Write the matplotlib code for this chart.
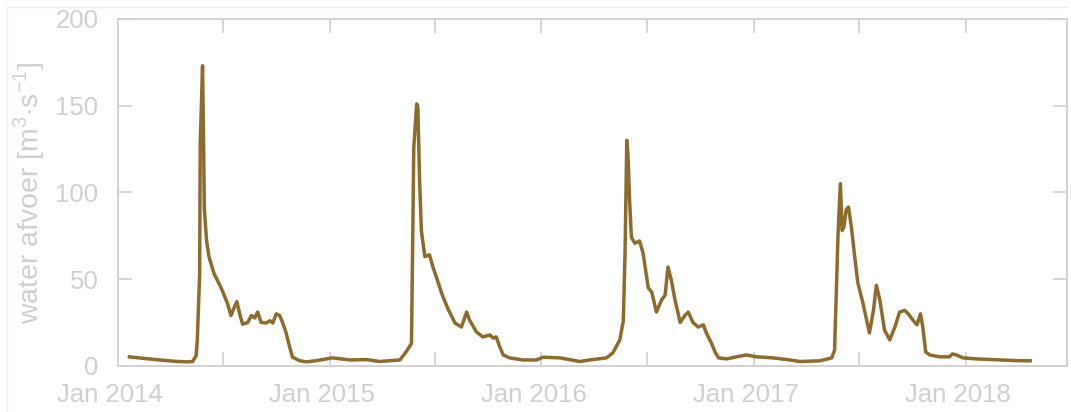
import pandas as pd
import matplotlib.pyplot as plt
import matplotlib.dates as mdates
from matplotlib.lines import Line2D
from matplotlib.transforms import ScaledTranslation

# Daily river discharge, sampled at the turning points of the hydrograph
dates = [
    "2014-01-21", "2014-02-15", "2014-03-14", "2014-04-10", "2014-04-30", "2014-05-10",
    "2014-05-16", "2014-05-18", "2014-05-22", "2014-05-23", "2014-05-27", "2014-05-29",
    "2014-05-30", "2014-06-03", "2014-06-07", "2014-06-16", "2014-06-28", "2014-07-09",
    "2014-07-15", "2014-07-21", "2014-07-25", "2014-07-30", "2014-08-04", "2014-08-13",
    "2014-08-19", "2014-08-25", "2014-08-30", "2014-09-05", "2014-09-14", "2014-09-20",
    "2014-09-25", "2014-10-01", "2014-10-07", "2014-10-12", "2014-10-18", "2014-10-24",
    "2014-10-29", "2014-11-10", "2014-11-22", "2014-12-09",
    "2015-01-06", "2015-02-05", "2015-03-07", "2015-03-28", "2015-05-02", "2015-05-13",
    "2015-05-22", "2015-05-24", "2015-05-26", "2015-05-31", "2015-06-02", "2015-06-05",
    "2015-06-08", "2015-06-14", "2015-06-22", "2015-06-28", "2015-07-07", "2015-07-15",
    "2015-07-24", "2015-08-05", "2015-08-16", "2015-08-25", "2015-08-30", "2015-09-11",
    "2015-09-22", "2015-10-04", "2015-10-10", "2015-10-15", "2015-10-21", "2015-10-27",
    "2015-11-07", "2015-11-30", "2015-12-23",
    "2016-01-04", "2016-02-02", "2016-03-07", "2016-03-24", "2016-04-22", "2016-05-03",
    "2016-05-15", "2016-05-21", "2016-05-24", "2016-05-27", "2016-05-29", "2016-06-01",
    "2016-06-04", "2016-06-10", "2016-06-18", "2016-06-24", "2016-07-03", "2016-07-09",
    "2016-07-17", "2016-07-26", "2016-08-01", "2016-08-06", "2016-08-12", "2016-08-18",
    "2016-08-27", "2016-09-04", "2016-09-10", "2016-09-18", "2016-09-27", "2016-10-06",
    "2016-10-11", "2016-10-20", "2016-10-26", "2016-11-01", "2016-11-15", "2016-12-02",
    "2016-12-19",
    "2017-01-06", "2017-02-03", "2017-03-04", "2017-03-21", "2017-04-25", "2017-05-15",
    "2017-05-20", "2017-05-23", "2017-05-26", "2017-05-30", "2017-06-02", "2017-06-05",
    "2017-06-09", "2017-06-13", "2017-06-18", "2017-06-23", "2017-06-29", "2017-07-08",
    "2017-07-19", "2017-07-26", "2017-07-31", "2017-08-06", "2017-08-14", "2017-08-23",
    "2017-09-01", "2017-09-09", "2017-09-18", "2017-09-24", "2017-10-02", "2017-10-09",
    "2017-10-15", "2017-10-19", "2017-10-24", "2017-10-31", "2017-11-17", "2017-12-04",
    "2017-12-09", "2017-12-16", "2017-12-27",
    "2018-01-20", "2018-03-01", "2018-03-30", "2018-04-22",
]
afvoer = [
    5.2, 4.3, 3.4, 2.6, 2.3, 2.5,
    6.0, 15.0, 53.0, 128.0, 173.0, 124.0,
    91.0, 72.0, 63.0, 53.0, 45.0, 36.0,
    29.0, 34.0, 37.0, 30.0, 24.0, 25.0,
    29.0, 27.6, 31.0, 25.0, 24.7, 26.0,
    24.7, 30.0, 29.0, 25.0, 19.0, 11.0,
    5.0, 3.0, 2.3, 3.0,
    4.6, 3.4, 3.6, 2.5, 3.4, 8.2,
    13.0, 68.0, 126.0, 151.0, 149.0, 107.0,
    78.0, 63.0, 64.0, 57.0, 48.0, 40.0,
    32.8, 24.7, 22.4, 31.0, 26.4, 19.5,
    16.7, 17.8, 16.0, 16.7, 11.0, 6.3,
    4.6, 3.4, 3.4,
    5.0, 4.6, 2.5, 3.4, 4.6, 7.5,
    15.0, 26.0, 65.0, 130.0, 122.0, 94.0,
    74.0, 70.7, 72.0, 65.0, 45.0, 42.5,
    31.0, 38.0, 40.8, 57.0, 49.0, 38.0,
    25.0, 29.0, 31.0, 25.0, 22.4, 23.6,
    19.0, 13.0, 8.0, 4.6, 4.0, 5.2,
    6.3,
    5.2, 4.6, 3.4, 2.5, 2.9, 4.6,
    9.0, 42.0, 76.0, 105.0, 78.0, 80.0,
    90.0, 91.5, 80.0, 65.0, 48.0, 36.0,
    19.0, 32.0, 46.5, 38.0, 20.7, 15.0,
    22.4, 31.0, 32.0, 30.0, 26.4, 23.6,
    30.0, 22.4, 8.0, 6.3, 5.2, 5.2,
    6.9, 6.3, 4.6,
    4.0, 3.4, 3.0, 2.9,
]
x_start, x_end = "2014-01-01", "2018-06-24"
y_ticks = [0, 50, 100, 150, 200]

grey = "#d2d2d2"
text_grey = "#cfcfcf"
line_colour = "#8d6b2c"

plt.rcParams["font.family"] = ["Liberation Sans", "DejaVu Sans"]
plt.rcParams["mathtext.fontset"] = "custom"
plt.rcParams["mathtext.rm"] = "Liberation Sans"

df = pd.DataFrame({"datum": pd.to_datetime(dates), "afvoer": afvoer})

fig = plt.figure(figsize=(10.71, 4.12), dpi=100)
ax = fig.add_axes([0.110, 0.112, 0.886, 0.842])

ax.plot(df["datum"], df["afvoer"], color=line_colour, lw=2.5, solid_joinstyle="round")

ax.set_xlim(pd.Timestamp(x_start), pd.Timestamp(x_end))
ax.set_ylim(0, 200)
ax.set_yticks(y_ticks)

# Yearly labels, half-year ticks
ax.xaxis.set_major_locator(mdates.MonthLocator(bymonth=[1]))
ax.xaxis.set_major_formatter(mdates.DateFormatter("%b %Y"))
ax.xaxis.set_minor_locator(mdates.MonthLocator(bymonth=[7]))

for side in ax.spines.values():
    side.set_color(grey)
    side.set_linewidth(1.4)

ax.tick_params(which="both", direction="in", length=10, width=1.3, color=grey,
               top=True, right=True, labelcolor=text_grey, labelsize=18.5)
ax.tick_params(axis="x", pad=12)
ax.tick_params(axis="y", pad=14)

# labels sit slightly left of their ticks
shift = ScaledTranslation(-8 / 100, 0, fig.dpi_scale_trans)
for lbl in ax.get_xticklabels():
    lbl.set_transform(lbl.get_transform() + shift)

ax.set_ylabel(r"water afvoer [m$^{3}$$\cdot$s$^{-1}$]", color=text_grey,
              fontsize=20.5, labelpad=6)

# faint border of the panel
fig.add_artist(Line2D([7 / 1071, 1067 / 1071], [1 - 7 / 412, 1 - 7 / 412],
                      transform=fig.transFigure, color="#ededed", lw=1))
fig.add_artist(Line2D([7 / 1071, 7 / 1071], [0, 1 - 7 / 412],
                      transform=fig.transFigure, color="#ededed", lw=1))

fig.savefig("out.png", dpi=100)
